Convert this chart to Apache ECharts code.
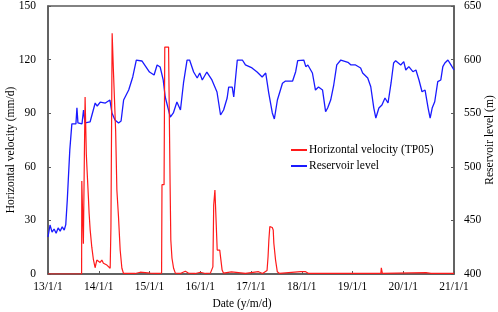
<!DOCTYPE html>
<html>
<head>
<meta charset="utf-8">
<script src="https://cdn.jsdelivr.net/npm/echarts@6/dist/echarts.min.js"></script>
<style>
  html, body { margin: 0; padding: 0; background: #fff; }
  #chart { width: 498px; height: 312px; }
</style>
</head>
<body>
<div id="chart"></div>
<script>
// x values are decimal years (2013.5 = mid 2013)
const levelDates = [
  2013.00, 2013.04, 2013.08, 2013.12, 2013.16, 2013.20, 2013.24, 2013.28, 2013.32, 2013.35,
  2013.38, 2013.40, 2013.43, 2013.47, 2013.55, 2013.57, 2013.59, 2013.67, 2013.70, 2013.73,
  2013.83, 2013.93, 2013.97, 2014.03, 2014.13, 2014.22, 2014.26, 2014.32, 2014.39, 2014.44,
  2014.49, 2014.59, 2014.67, 2014.74, 2014.85, 2014.92, 2015.00, 2015.09, 2015.15, 2015.21,
  2015.27, 2015.31, 2015.41, 2015.47, 2015.54, 2015.61, 2015.67, 2015.74, 2015.79, 2015.87,
  2015.94, 2015.99, 2016.04, 2016.13, 2016.23, 2016.33, 2016.40, 2016.46, 2016.53, 2016.56,
  2016.63, 2016.66, 2016.73, 2016.83, 2016.89, 2017.02, 2017.12, 2017.22, 2017.29, 2017.35,
  2017.42, 2017.46, 2017.52, 2017.62, 2017.68, 2017.82, 2017.88, 2017.92, 2018.04, 2018.08,
  2018.12, 2018.21, 2018.27, 2018.33, 2018.41, 2018.47, 2018.51, 2018.57, 2018.63, 2018.69,
  2018.77, 2018.91, 2018.97, 2019.06, 2019.16, 2019.20, 2019.30, 2019.36, 2019.42, 2019.46,
  2019.52, 2019.58, 2019.64, 2019.70, 2019.76, 2019.81, 2019.85, 2019.95, 2020.01, 2020.05,
  2020.11, 2020.19, 2020.25, 2020.31, 2020.37, 2020.43, 2020.49, 2020.53, 2020.57, 2020.62,
  2020.68, 2020.74, 2020.78, 2020.82, 2020.88, 2020.94, 2021.00
];
const levelValues = [
  434.5, 445.7, 439, 442, 438, 443, 440, 444, 441, 446,
  469, 488, 516, 540, 540, 555, 541, 540, 553, 541,
  542, 559.5, 556.7, 560.4, 559.5, 562.3, 550.2, 543.7, 540.9, 542.7,
  562.3, 571.6, 583.8, 599.6, 598.7, 594, 588.4, 585.6, 595, 593.1,
  581, 565.1, 546.4, 550.2, 560.4, 553, 578.2, 599.6, 599.6, 588.4,
  582.8, 587.5, 581, 588.4, 581, 569.8, 548.3, 553, 564.2, 574.4,
  574.4, 565.1, 599.6, 599.6, 595, 592.2, 588.4, 583.8, 587.5, 568.8,
  550.2, 544.6, 562.3, 577.9, 580, 580, 588.7, 599, 599.6, 593.4,
  595, 587.5, 571.6, 574.4, 571.6, 551.4, 554.8, 562.3, 576.3, 595,
  599.6, 597.5, 595, 595, 592.2, 587.5, 582.8, 574.7, 554.8, 545.5,
  554.8, 557.6, 564.2, 559.5, 578.2, 596.8, 599, 595, 598.1, 590.3,
  593.4, 588.7, 590.3, 581, 570, 571.6, 554.8, 545.5, 554.8, 560.7,
  579.4, 581, 593.4, 596.8, 599.6, 595, 590.3
];

const velocityDates = [
  2013.000, 2013.662, 2013.666, 2013.695, 2013.697, 2013.711, 2013.717, 2013.731, 2013.747, 2013.755,
  2013.770, 2013.796, 2013.810, 2013.830, 2013.863, 2013.895, 2013.928, 2013.962, 2013.994, 2014.027,
  2014.061, 2014.092, 2014.160, 2014.225, 2014.240, 2014.254, 2014.264, 2014.284, 2014.290, 2014.323,
  2014.333, 2014.357, 2014.389, 2014.422, 2014.456, 2014.487, 2014.719, 2014.817, 2015.015, 2015.054,
  2015.173, 2015.238, 2015.246, 2015.287, 2015.301, 2015.376, 2015.380, 2015.396, 2015.406, 2015.420,
  2015.443, 2015.475, 2015.509, 2015.607, 2015.706, 2015.765, 2015.904, 2016.002, 2016.101, 2016.200,
  2016.249, 2016.265, 2016.289, 2016.324, 2016.334, 2016.384, 2016.431, 2016.457, 2016.615, 2016.654,
  2016.891, 2017.148, 2017.227, 2017.316, 2017.336, 2017.352, 2017.371, 2017.419, 2017.438, 2017.450,
  2017.484, 2017.518, 2017.563, 2017.978, 2018.077, 2018.136, 2019.558, 2019.568, 2019.588, 2020.447,
  2020.546, 2021.000
];
const velocityValues = [
  0, 0, 52, 52, 17, 17, 67, 99, 99, 67,
  58, 43, 34, 25, 15, 8, 3.5, 7.8, 8.8, 6.5,
  7.8, 6, 5, 3.2, 26, 26, 134.7, 134.7, 113, 113,
  80, 47, 32, 13.4, 3.2, 0.4, 0.3, 1, 0.5, 1.2,
  0.3, 0.5, 50, 50, 127, 127, 116, 116, 50, 19,
  8.8, 3.2, 0.5, 0.3, 1.5, 0.5, 0.3, 1, 0.3, 0.5,
  4, 38.6, 47, 47, 13.4, 13.4, 2.2, 0.5, 1.2, 0.3,
  0.3, 1.3, 0.3, 2, 9.7, 19, 26.5, 26, 24.6, 17.2,
  7.8, 1.3, 0.3, 1.3, 1.3, 0.3, 0.3, 3.5, 0.3, 0.8,
  0.3, 0.3
];

const velocityName = 'Horizontal velocity (TP05)';
const levelName = 'Reservoir level';

const font = 'Liberation Serif';
const fontSize = 11.5;
const axisColor = '#595959';

const chart = echarts.init(document.getElementById('chart'));

const zip = (xs, ys) => xs.map((x, i) => [x, ys[i]]);

chart.setOption({
  animation: false,
  textStyle: { fontFamily: font, color: '#000' },
  grid: {
    left: 48, right: 44, top: 6, bottom: 38,
    outerBoundsMode: 'none',
    containLabel: false,
    show: true, borderColor: axisColor, borderWidth: 1.5
  },
  legend: {
    orient: 'vertical',
    left: 286, top: 139,
    itemWidth: 16, itemHeight: 2, itemGap: 4,
    icon: 'rect',
    textStyle: { fontFamily: font, fontSize: fontSize, color: '#000', padding: [0, 0, 0, -3] },
    data: [velocityName, levelName]
  },
  xAxis: {
    type: 'value',
    min: 2013, max: 2021, interval: 1,
    name: 'Date (y/m/d)',
    nameLocation: 'middle',
    nameGap: 24,
    nameMoveOverlap: false,
    nameTextStyle: { fontFamily: font, fontSize: fontSize, color: '#000', padding: [0, 18, 0, 0] },
    axisLine: { lineStyle: { color: axisColor, width: 1.5 } },
    axisTick: { inside: true, length: 3, lineStyle: { color: axisColor } },
    axisLabel: {
      fontFamily: font, fontSize: fontSize, color: '#000', margin: 7,
      formatter: v => (Math.round(v) - 2000) + '/1/1'
    },
    splitLine: { show: false }
  },
  yAxis: [
    {
      type: 'value',
      min: 0, max: 150, interval: 30,
      name: 'Horizontal velocity (mm/d)',
      nameLocation: 'middle',
      nameRotate: 90,
      nameGap: 31,
      nameMoveOverlap: false,
      nameTextStyle: { fontFamily: font, fontSize: fontSize, color: '#000', padding: [0, 20, 0, 0] },
      axisLine: { show: true, lineStyle: { color: axisColor, width: 1.5 } },
      axisTick: { show: true, inside: true, length: 3, lineStyle: { color: axisColor } },
      axisLabel: { fontFamily: font, fontSize: fontSize, color: '#000', margin: 12 },
      splitLine: { show: false }
    },
    {
      type: 'value',
      min: 400, max: 650, interval: 50,
      name: 'Reservoir level (m)',
      nameLocation: 'middle',
      nameRotate: 90,
      nameGap: 30,
      nameMoveOverlap: false,
      nameTextStyle: { fontFamily: font, fontSize: fontSize, color: '#000' },
      axisLine: { show: true, lineStyle: { color: axisColor, width: 1.5 } },
      axisTick: { show: true, inside: true, length: 3, lineStyle: { color: axisColor } },
      axisLabel: { fontFamily: font, fontSize: fontSize, color: '#000', margin: 10 },
      splitLine: { show: false }
    }
  ],
  series: [
    {
      name: velocityName,
      type: 'line',
      yAxisIndex: 0,
      symbol: 'none',
      z: 3,
      color: '#ff1a1a',
      lineStyle: { color: '#ff1a1a', width: 1.2 },
      data: zip(velocityDates, velocityValues)
    },
    {
      name: levelName,
      type: 'line',
      yAxisIndex: 1,
      symbol: 'none',
      z: 2,
      color: '#1a1aff',
      lineStyle: { color: '#1a1aff', width: 1.3 },
      data: zip(levelDates, levelValues)
    }
  ]
});
</script>
</body>
</html>
